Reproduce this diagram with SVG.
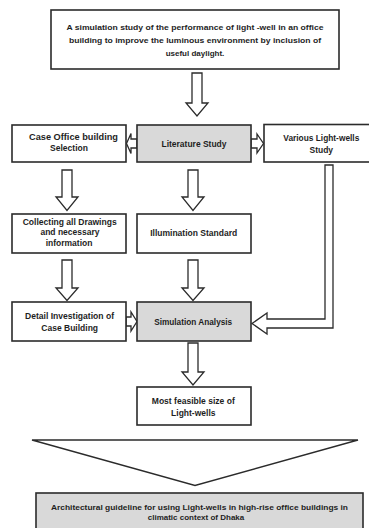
<svg xmlns="http://www.w3.org/2000/svg" width="369" height="528" viewBox="0 0 369 528">
<defs>
<style>
.box{fill:#ffffff;stroke:#2b2b2b;stroke-width:1.6}
.grey{fill:#d9d9d9;stroke:#2b2b2b;stroke-width:1.6}
.arr{fill:#ffffff;stroke:#2b2b2b;stroke-width:1.3;stroke-linejoin:miter}
text{font-family:"Liberation Sans",Arial,sans-serif;font-weight:bold;font-size:8.5px;fill:#1e1e1e;text-anchor:middle}
.s{font-size:8px}
</style>
</defs>
<rect width="369" height="528" fill="#ffffff"/>
<g id="connectors">
<polygon class="arr" points="192,73 202,73 202,103 208,103 197,116 186,103 192,103"/>
<polygon class="arr" points="137,139 131,139 131,133.5 126.5,143.5 131,153.5 131,148 137,148"/>
<polygon class="arr" points="251,139 257,139 257,134 263.5,143.5 257,153 257,148 251,148"/>
<polygon class="arr" points="62,170 72,170 72,197 78,197 67,210.5 56,197 62,197"/>
<polygon class="arr" points="188,170 198,170 198,197 204,197 193,210.5 182,197 188,197"/>
<polygon class="arr" points="62,260 72,260 72,288 78,288 67,300.5 56,288 62,288"/>
<polygon class="arr" points="188,260 198,260 198,288 204,288 193,300.5 182,288 188,288"/>
<polygon class="arr" points="126,317 131,317 131,312 137,321.5 131,331 131,326 126,326"/>
<polygon class="arr" points="325,165 333,165 333,328 267,328 267,334 252,323.5 267,313 267,319 325,319"/>
<polygon class="arr" points="188,343 198,343 198,372 204,372 193,385 182,372 188,372"/>
<polygon class="arr" points="32,440 358,440 195,485.5"/>
</g>
<g id="n-top">
<rect class="box" x="51" y="10" width="288" height="59"/>
<text class="s" x="195" y="29.5" textLength="257" lengthAdjust="spacingAndGlyphs">A simulation study of the performance of light -well in an office</text>
<text class="s" x="195" y="43" textLength="252" lengthAdjust="spacingAndGlyphs">building to improve the luminous environment by inclusion of</text>
<text class="s" x="195" y="56">useful daylight.</text>
</g>
<g id="n-case">
<rect class="box" x="12" y="125" width="114" height="37"/>
<text x="73.5" y="139.5" textLength="89" lengthAdjust="spacingAndGlyphs">Case Office building</text>
<text x="69" y="151">Selection</text>
</g>
<g id="n-literature">
<rect class="grey" x="137" y="125" width="114" height="37"/>
<text x="194" y="147.3" textLength="65" lengthAdjust="spacingAndGlyphs">Literature Study</text>
</g>
<g id="n-various">
<rect class="box" x="264" y="124.5" width="114" height="37.5"/>
<text x="321.3" y="141.3" textLength="76" lengthAdjust="spacingAndGlyphs">Various Light-wells</text>
<text x="321.3" y="153">Study</text>
</g>
<g id="n-collecting">
<rect class="box" x="12" y="214" width="114" height="39"/>
<text x="69.7" y="224.7" textLength="94" lengthAdjust="spacingAndGlyphs">Collecting all Drawings</text>
<text x="70" y="235.2">and necessary</text>
<text x="69" y="246.2">information</text>
</g>
<g id="n-illumination">
<rect class="box" x="137" y="214" width="114" height="39"/>
<text x="193.7" y="236.3" textLength="87" lengthAdjust="spacingAndGlyphs">Illumination Standard</text>
</g>
<g id="n-detail">
<rect class="box" x="12" y="302" width="114" height="39"/>
<text x="69.5" y="318.7" textLength="89" lengthAdjust="spacingAndGlyphs">Detail Investigation of</text>
<text x="69.7" y="331.3">Case Building</text>
</g>
<g id="n-simulation">
<rect class="grey" x="137" y="302" width="114" height="39"/>
<text x="193.2" y="324.7" textLength="78" lengthAdjust="spacingAndGlyphs">Simulation Analysis</text>
</g>
<g id="n-feasible">
<rect class="box" x="137" y="387" width="114" height="38"/>
<text x="193.3" y="403.7" textLength="83" lengthAdjust="spacingAndGlyphs">Most feasible size of</text>
<text x="193.3" y="416.3">Light-wells</text>
</g>
<g id="n-guideline">
<rect class="grey" x="36" y="493" width="327" height="45"/>
<text class="s" x="199.5" y="509.8" textLength="297" lengthAdjust="spacingAndGlyphs">Architectural guideline for using Light-wells in high-rise office buildings in</text>
<text class="s" x="196" y="519.8">climatic context of Dhaka</text>
</g>
</svg>
